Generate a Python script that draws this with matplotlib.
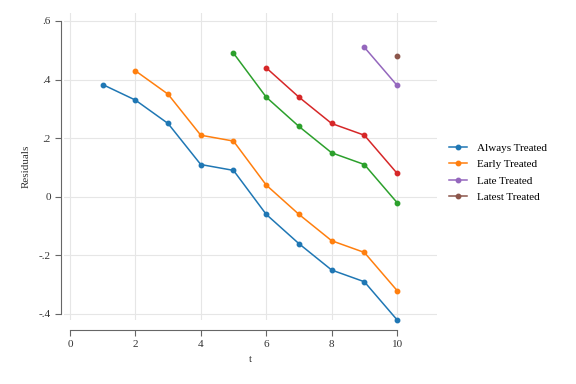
import matplotlib
matplotlib.use("Agg")
import matplotlib.pyplot as plt

plt.rcParams['font.family'] = ['Liberation Serif', 'DejaVu Serif']

# residuals by cohort
t_always = [1, 2, 3, 4, 5, 6, 7, 8, 9, 10]
r_always = [0.383, 0.33, 0.25, 0.11, 0.09, -0.06, -0.16, -0.25, -0.29, -0.42]
t_early = [2, 3, 4, 5, 6, 7, 8, 9, 10]
r_early = [0.43, 0.35, 0.21, 0.19, 0.04, -0.06, -0.15, -0.19, -0.32]
t_mid = [5, 6, 7, 8, 9, 10]
r_mid = [0.49, 0.34, 0.24, 0.15, 0.11, -0.02]
t_mid2 = [6, 7, 8, 9, 10]
r_mid2 = [0.44, 0.34, 0.25, 0.21, 0.08]
t_late = [9, 10]
r_late = [0.51, 0.38]
t_latest = [10]
r_latest = [0.48]

W, H = 576, 384
fig = plt.figure(figsize=(W / 100, H / 100), dpi=100)
ax = fig.add_axes([64 / W, 1 - 320 / H, (437 - 64) / W, (320 - 13) / H])

kw = dict(marker='o', markersize=3.2, linewidth=1.1, clip_on=False)
ax.plot(t_always, r_always, color='#1f77b4', label='Always Treated', **kw)
ax.plot(t_early, r_early, color='#ff7f0e', label='Early Treated', **kw)
ax.plot(t_mid, r_mid, color='#2ca02c', **kw)
ax.plot(t_mid2, r_mid2, color='#d62728', **kw)
ax.plot(t_late, r_late, color='#9467bd', label='Late Treated', **kw)
ax.plot(t_latest, r_latest, color='#8c564b', label='Latest Treated', **kw)

ax.set_xlim(-0.18, 11.22)
ax.set_ylim(-0.4205, 0.627)
ax.set_xticks([0, 2, 4, 6, 8, 10])
ax.set_xticklabels(['0', '2', '4', '6', '8', '10'])
ax.set_yticks([-0.4, -0.2, 0, 0.2, 0.4, 0.6])
ax.set_yticklabels(['-.4', '-.2', '0', '.2', '.4', '.6'])

ax.grid(True, color='#e6e6e6', linewidth=0.8)
ax.set_axisbelow(True)
for s in ['top', 'right']:
    ax.spines[s].set_visible(False)
ax.spines['left'].set_position(('outward', 2))
ax.spines['bottom'].set_position(('outward', 7))
ax.spines['left'].set_bounds(-0.4, 0.6)
ax.spines['bottom'].set_bounds(0, 10)
for s in ['left', 'bottom']:
    ax.spines[s].set_color('#666666')
    ax.spines[s].set_linewidth(0.8)
ax.tick_params(colors='#666666', labelcolor='#333333', labelsize=8, length=4, width=0.8)

ax.set_xlabel('t', fontsize=8, color='#333333', labelpad=4)
ax.set_ylabel('Residuals', fontsize=8, color='#333333', labelpad=6)

ax.legend(loc='center left', bbox_to_anchor=(1.005, 0.48), frameon=False, fontsize=8,
          handlelength=1.6, handletextpad=0.9, labelspacing=0.6)

fig.savefig('out.png', dpi=100)
